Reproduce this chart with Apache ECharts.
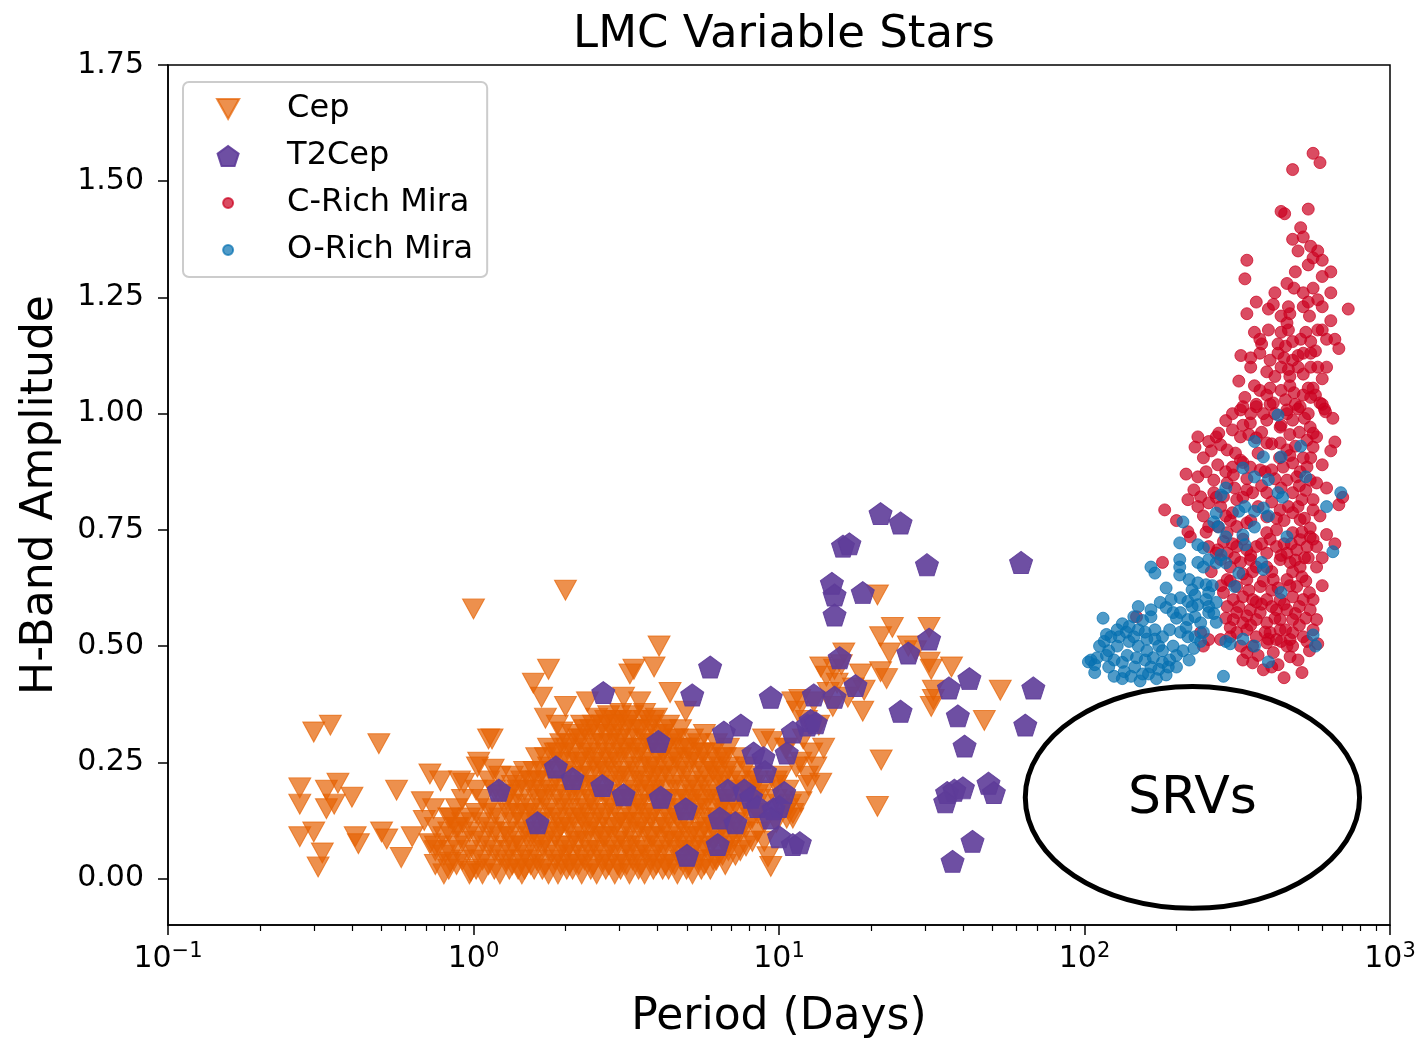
<!DOCTYPE html>
<html><head><meta charset="utf-8">
<script src="https://cdn.jsdelivr.net/npm/echarts@6/dist/echarts.min.js"></script>
<style>html,body{margin:0;padding:0;background:#fff;}#chart{width:1420px;height:1039px;}</style>
</head><body><div id="chart"></div>
<script>
const FONT = 'DejaVu Sans';
const chartTitle = 'LMC Variable Stars';
const xAxisName = 'Period (Days)';
const yAxisName = 'H-Band Amplitude';
const seriesNames = ['Cep', 'T2Cep', 'C-Rich Mira', 'O-Rich Mira'];
const seriesColors = ['#e66101', '#5e3c99', '#ca0020', '#0571b0'];
const xMajorTicks = [0.1, 1, 10, 100, 1000];
const xMinorTicks = [0.2,0.3,0.4,0.5,0.6,0.7,0.8,0.9, 2,3,4,5,6,7,8,9, 20,30,40,50,60,70,80,90, 200,300,400,500,600,700,800,900];
const yTicks = [0, 0.25, 0.5, 0.75, 1.0, 1.25, 1.5, 1.75];
const srvLabel = 'SRVs';
const srvPeriodRange = [64, 795];
const srvAmpRange = [-0.064, 0.413];

// Classical Cepheids: isolated points
const cepScattered = [
 [0.30,0.315],[0.34,0.33],[0.49,0.29],[0.27,0.195],[0.27,0.16],[0.33,0.19],[0.36,0.205],[0.33,0.15],[0.35,0.16],[0.40,0.175],
 [0.27,0.09],[0.30,0.10],[0.32,0.055],[0.31,0.025],[0.41,0.09],[0.42,0.075],[0.50,0.10],[0.52,0.085],[0.56,0.19],[0.58,0.045],
 [0.63,0.09],[0.72,0.225],[0.78,0.21],[0.68,0.165],[0.74,0.15],[0.69,0.125],[0.75,0.06],[0.72,0.075],[0.93,0.205],[1.03,0.24],
 [1.12,0.30],[0.84,0.13],[0.89,0.11],[0.84,0.035],[0.98,0.015],
 [1.0,0.58],[2.0,0.62],[4.05,0.50],[3.9,0.455],[3.25,0.44],[3.35,0.45],[1.76,0.45],[1.57,0.42],[1.67,0.39],[2.0,0.37],
 [1.72,0.345],[1.88,0.33],[1.95,0.315],[1.15,0.30],[4.4,0.40],[4.95,0.36],[2.36,0.38],[3.1,0.39],[3.5,0.38],[1.04,0.25],[1.16,0.235],[0.9,0.21],
 [11.7,0.385],[11.1,0.38],[8.9,0.30],[9.5,0.295],[10.6,0.28],[9.2,0.047],[9.4,0.026],[10.6,0.13],[11.1,0.13],[11.4,0.24],
 [12.4,0.22],[10.9,0.16],[11.8,0.165],[11.1,0.14],[13.7,0.205],
 [21,0.61],[23.5,0.54],[21.5,0.52],[31,0.54],[23,0.485],[21.5,0.445],[22.5,0.43],[16.3,0.485],[16,0.46],[13.7,0.455],
 [14.3,0.435],[18.5,0.44],[17.5,0.41],[19,0.405],[18.8,0.36],[26.5,0.50],[28,0.49],[31,0.465],[31.5,0.45],[36.7,0.455],
 [32,0.405],[32,0.385],[31.5,0.37],[53,0.405],[47,0.34],[21.6,0.255],[21,0.155],[11.5,0.36],[12.3,0.34],[13,0.38],
 [12,0.30],[13.5,0.33],[14.5,0.40],[15.5,0.42],[14,0.28],[12.8,0.27],[11.8,0.25],[10.5,0.28],[10.2,0.22],[9.8,0.20],
 [12.5,0.20],[13.2,0.24],[15,0.37],[16.8,0.39],[15.2,0.45]
];
// Classical Cepheids: the dense cloud, read column by column (period, amplitudes)
const cepCloud = [
 [0.75,[0.03,0.07,0.11]],[0.83,[0.02,0.06,0.10,0.13]],[0.92,[0.04,0.08,0.12,0.17]],[1.02,[0.02,0.05,0.09,0.14,0.19]],
 [1.12,[0.03,0.07,0.11,0.15,0.21]],[1.22,[0.01,0.05,0.09,0.13,0.18,0.22]],[1.34,[0.03,0.07,0.12,0.16,0.20,0.22]],
 [1.47,[0.02,0.05,0.10,0.14,0.19,0.23]],[1.61,[0.04,0.08,0.12,0.17,0.21,0.26]],[1.76,[0.01,0.06,0.10,0.15,0.19,0.24,0.28]],
 [1.93,[0.03,0.07,0.11,0.16,0.20,0.25,0.29]],[2.11,[0.02,0.05,0.09,0.13,0.18,0.22,0.27,0.31]],
 [2.31,[0.04,0.08,0.12,0.15,0.20,0.24,0.28,0.32]],[2.53,[0.01,0.06,0.10,0.14,0.18,0.23,0.26,0.31,0.345]],
 [2.77,[0.03,0.07,0.11,0.16,0.21,0.25,0.29,0.33,0.35]],[3.03,[0.02,0.05,0.09,0.13,0.17,0.22,0.27,0.30,0.34,0.355]],
 [3.32,[0.04,0.08,0.12,0.15,0.19,0.24,0.28,0.32,0.35]],[3.63,[0.01,0.06,0.10,0.14,0.18,0.21,0.26,0.30,0.34,0.355]],
 [3.97,[0.03,0.07,0.11,0.16,0.20,0.23,0.27,0.31,0.345]],[4.35,[0.02,0.05,0.09,0.13,0.17,0.22,0.25,0.29,0.33]],
 [4.76,[0.04,0.08,0.12,0.15,0.19,0.24,0.28,0.32]],[5.21,[0.01,0.06,0.10,0.14,0.18,0.21,0.26,0.30]],
 [5.70,[0.03,0.07,0.11,0.16,0.20,0.23,0.27,0.31]],[6.24,[0.04,0.09,0.13,0.17,0.22,0.25,0.29]],
 [6.83,[0.06,0.08,0.12,0.15,0.19,0.24,0.28]],[7.47,[0.06,0.10,0.14,0.18,0.21,0.26]],[8.18,[0.08,0.13,0.17,0.20,0.22]],
 [8.95,[0.08,0.12,0.16,0.19]],[9.8,[0.12,0.17,0.21]],[10.7,[0.15,0.19]],
 [1.28,[0.04,0.10,0.17]],[1.40,[0.02,0.08,0.14,0.19]],[1.54,[0.03,0.09,0.15,0.21]],[1.68,[0.02,0.07,0.13,0.18,0.23]],
 [1.85,[0.04,0.09,0.14,0.21,0.27]],[2.02,[0.02,0.06,0.12,0.17,0.23,0.28]],[2.21,[0.03,0.08,0.14,0.19,0.25,0.30]],
 [2.42,[0.02,0.06,0.11,0.17,0.22,0.27,0.32]],[2.65,[0.04,0.09,0.13,0.19,0.24,0.29,0.33]],
 [2.90,[0.01,0.06,0.11,0.15,0.20,0.26,0.31,0.34]],[3.17,[0.03,0.07,0.12,0.18,0.23,0.28,0.33]],
 [3.47,[0.02,0.05,0.11,0.16,0.22,0.27,0.32]],[3.80,[0.04,0.09,0.13,0.19,0.24,0.29,0.33]],
 [4.16,[0.02,0.06,0.12,0.17,0.22,0.27,0.31]],[4.55,[0.03,0.08,0.14,0.20,0.26,0.30]],[4.98,[0.02,0.07,0.12,0.17,0.23,0.28]],
 [5.45,[0.04,0.09,0.15,0.19,0.25,0.29]],[5.96,[0.02,0.07,0.12,0.18,0.24]],[6.53,[0.05,0.11,0.16,0.21,0.26]],
 [0.80,[0.01,0.05,0.09]],[0.88,[0.03,0.07,0.11,0.15]],[0.97,[0.01,0.06,0.10,0.13]],[1.07,[0.01,0.04,0.08,0.12,0.17]],
 [1.17,[0.02,0.06,0.10,0.14,0.19]],[1.31,[0.02,0.06,0.09,0.14,0.18]],[1.44,[0.01,0.04,0.07,0.12,0.16,0.21]],
 [1.58,[0.02,0.06,0.10,0.14,0.19,0.23]],[1.72,[0.03,0.08,0.12,0.17,0.21,0.26]],[1.89,[0.01,0.05,0.10,0.13,0.18,0.23,0.27]],
 [2.06,[0.03,0.07,0.11,0.15,0.20,0.25,0.29]],[2.26,[0.01,0.05,0.10,0.13,0.17,0.22,0.26,0.30,0.33]],
 [2.47,[0.03,0.08,0.12,0.16,0.20,0.25,0.29,0.33]],[2.71,[0.02,0.05,0.09,0.14,0.18,0.23,0.27,0.31,0.34]],
 [2.96,[0.03,0.08,0.12,0.17,0.22,0.25,0.29,0.33]],[3.24,[0.01,0.06,0.10,0.14,0.17,0.21,0.26,0.30,0.34]],
 [3.55,[0.03,0.07,0.12,0.16,0.20,0.24,0.28,0.32]],[3.88,[0.02,0.05,0.09,0.14,0.18,0.22,0.25,0.29,0.34]],
 [4.25,[0.03,0.08,0.11,0.15,0.19,0.24,0.28,0.32]],[4.65,[0.01,0.06,0.10,0.13,0.17,0.22,0.26,0.30]],
 [5.09,[0.03,0.05,0.09,0.16,0.20,0.25,0.28]],[5.57,[0.02,0.06,0.10,0.13,0.17,0.22,0.27]],
 [6.09,[0.04,0.08,0.11,0.15,0.20,0.23,0.27]],[6.67,[0.03,0.07,0.10,0.14,0.17,0.22,0.26]],
 [7.2,[0.05,0.09,0.12,0.16,0.20,0.23]],[7.8,[0.07,0.11,0.15,0.19,0.24]],[8.5,[0.10,0.14,0.18,0.21]]
];
const cepData = cepScattered.concat(cepCloud.flatMap(([p, amps]) => amps.map(a => [p, a])));

// Type II Cepheids
const t2cepData = [
 [2.66,0.40],[1.21,0.19],[1.86,0.24],[2.11,0.215],[2.64,0.20],[3.1,0.18],[1.62,0.12],[5.95,0.455],[5.2,0.395],[9.4,0.39],
 [4.03,0.295],[6.6,0.315],[7.5,0.33],[8.25,0.27],[8.9,0.26],[9.0,0.23],[10.6,0.27],[11.1,0.315],[12.4,0.33],[4.1,0.175],
 [4.95,0.15],[6.8,0.19],[7.7,0.19],[8.1,0.175],[6.4,0.13],[7.2,0.12],[8.5,0.155],[9.6,0.15],[10.0,0.155],[9.4,0.13],
 [10.0,0.09],[11.1,0.073],[6.3,0.073],[5.0,0.05],[10.4,0.185],
 [21.5,0.785],[25,0.765],[16.2,0.715],[17,0.72],[30.5,0.675],[62,0.68],[14.9,0.635],[15.2,0.61],[18.8,0.615],[15.2,0.567],
 [31,0.515],[26.5,0.485],[15.8,0.475],[17.8,0.415],[13,0.395],[15.2,0.39],[12.7,0.34],[13.2,0.335],[36,0.41],[42,0.43],
 [68,0.41],[25,0.36],[38.5,0.35],[64,0.33],[40.5,0.285],[35.5,0.185],[37.5,0.19],[40,0.195],[35,0.165],[48.5,0.205],
 [50.5,0.185],[43,0.08],[37,0.037],[11.7,0.077]
];

// Carbon-rich Miras
const cRichData = [
 [560,1.56],[590,1.54],[480,1.525],[440,1.435],[452,1.43],[540,1.44],[510,1.40],[480,1.375],[520,1.38],[550,1.36],
 [580,1.35],[560,1.335],[540,1.32],[340,1.33],[335,1.29],[490,1.305],[640,1.305],[600,1.295],[485,1.27],[520,1.26],
 [560,1.27],[580,1.245],[540,1.24],[520,1.23],[365,1.24],[415,1.235],[400,1.225],[340,1.215],[465,1.23],[470,1.215],
 [440,1.21],[730,1.225],[545,1.21],[640,1.20],[600,1.18],[580,1.18],[460,1.195],[465,1.18],[360,1.175],[400,1.18],
 [440,1.175],[375,1.16],[380,1.15],[430,1.15],[455,1.145],[480,1.155],[510,1.16],[550,1.155],[620,1.16],[660,1.16],
 [325,1.125],[350,1.12],[375,1.13],[405,1.115],[450,1.12],[500,1.125],[520,1.13],[550,1.13],[350,1.10],[440,1.10],
 [465,1.095],[500,1.10],[550,1.10],[580,1.10],[320,1.07],[420,1.08],[470,1.08],[520,1.085],[600,1.075],[375,1.05],
 [405,1.055],[440,1.05],[485,1.045],[540,1.055],[560,1.055],[335,1.035],[330,1.015],[365,1.02],[405,1.02],[455,1.03],
 [490,1.02],[550,1.035],[600,1.02],[350,1.0],[385,1.0],[460,1.0],[500,1.01],[540,1.0],[610,1.01],
 [324,1.008],[365,1.015],[415,1.023],[460,1.008],[508,1.015],[590,1.023],[615,1.004],
 [349,0.98],[395,0.986],[437,0.971],[480,0.986],[548,0.971],[560,0.958],
 [235,0.95],[255,0.94],[230,0.928],[275,0.958],[305,0.965],[324,0.95],[279,0.933],[293,0.922],[312,0.915],[365,0.948],
 [395,0.937],[437,0.937],[460,0.922],[535,0.943],[575,0.95],[560,0.928],[660,0.939],
 [245,0.905],[273,0.89],[305,0.885],[324,0.90],[349,0.885],[376,0.879],[410,0.879],[447,0.885],[480,0.894],[508,0.875],[535,0.885],
 [235,0.864],[265,0.857],[293,0.851],[307,0.868],[460,0.857],[495,0.864],[548,0.857],[575,0.851],
 [228,0.836],[218,0.815],[240,0.821],[265,0.83],[285,0.821],[315,0.815],[340,0.836],[355,0.83],[395,0.83],[480,0.83],[515,0.815],[560,0.815],[680,0.804],
 [183,0.793],[235,0.80],[255,0.808],[279,0.80],[305,0.787],[395,0.778],[437,0.793],[480,0.787],[508,0.772],[548,0.754],[560,0.793],
 [218,0.746],[222,0.735],[255,0.757],[273,0.757],[293,0.744],[315,0.757],[340,0.765],[395,0.744],[425,0.75],[480,0.744],[508,0.729],[548,0.735],[575,0.714],
 [255,0.714],[273,0.707],[293,0.70],[315,0.714],[340,0.707],[365,0.714],[395,0.70],[425,0.714],[460,0.70],[495,0.707],[535,0.714],
 [180,0.68],[279,0.686],[300,0.67],[324,0.68],[349,0.686],[365,0.67],[395,0.67],[437,0.686],[471,0.68],[508,0.67],[575,0.67],
 [293,0.643],[315,0.628],[340,0.643],[376,0.628],[415,0.643],[460,0.643],[495,0.628],[515,0.649],
 [285,0.615],[307,0.60],[330,0.606],[355,0.60],[395,0.60],[437,0.60],[480,0.606],
 [293,0.585],[315,0.572],[349,0.578],[376,0.572],[425,0.578],[460,0.578],[548,0.578],
 [307,0.557],[330,0.55],[365,0.557],[395,0.55],[437,0.557],[480,0.557],[575,0.557],
 [315,0.529],[340,0.535],[365,0.52],[405,0.529],[437,0.535],[480,0.529],[560,0.535],
 [255,0.514],[279,0.514],[324,0.50],[355,0.50],[395,0.507],[425,0.514],[471,0.514],[480,0.50],
 [340,0.486],[415,0.486],[355,0.464],[385,0.449],[471,0.477],[450,0.432],[515,0.443],
 [240,0.529],[245,0.50],[148,0.563],
 [330,0.47],[370,0.48],[430,0.46],[460,0.50],[500,0.47],[520,0.52],[545,0.49],[390,0.53],[300,0.54],[440,0.51],[410,0.455],[580,0.505],
 [290,0.56],[340,0.565],[380,0.59],[420,0.56],[450,0.59],[505,0.585],[530,0.56],[560,0.60],[600,0.63],[345,0.62],[410,0.62],[470,0.63],[300,0.64],
 [260,0.66],[285,0.725],[310,0.69],[330,0.73],[355,0.66],[380,0.72],[410,0.66],[450,0.72],[490,0.685],[525,0.69],[560,0.73],[600,0.69],[620,0.74],[660,0.72],
 [200,0.77],[245,0.78],[300,0.77],[330,0.82],[370,0.80],[410,0.81],[450,0.77],[500,0.80],[530,0.835],[590,0.78],[620,0.84],[700,0.82],
 [215,0.87],[260,0.92],[290,0.875],[340,0.86],[370,0.915],[420,0.86],[470,0.91],[520,0.905],[600,0.89],[640,0.92],
 [290,0.985],[330,0.975],[380,0.96],[420,1.00],[470,0.955],[525,0.99],[570,1.04],[650,0.99],
 [360,1.06],[395,1.09],[430,1.13],[480,1.115],[530,1.175],[570,1.135],[620,1.10],[680,1.14],
 [420,1.26],[460,1.28],[600,1.23],[640,1.26],[500,1.35],[600,1.33],
 [300,0.52],[350,0.545],[400,0.515],[455,0.535],[505,0.545],[535,0.51],[320,0.585],[365,0.595],[410,0.585],[490,0.57],
 [520,0.60],[545,0.615],[280,0.63],[330,0.655],[385,0.64],[430,0.625],[480,0.66],[530,0.64],[270,0.70],[305,0.72],
 [350,0.695],[405,0.73],[440,0.695],[475,0.72],[515,0.745],[540,0.69],[250,0.745],[290,0.78],[350,0.77],[425,0.775],
 [465,0.80],[525,0.775],[270,0.82],[310,0.84],[380,0.845],[440,0.84],[505,0.845],[250,0.875],[330,0.895],[390,0.875],
 [435,0.905],[490,0.93],[550,0.905],[270,0.95],[345,0.955],[410,0.935],[505,0.96],[305,1.0],[440,0.975],[395,1.04],
 [470,1.06],[520,1.04]
];

// Oxygen-rich Miras
const oRichData = [
 [430,0.997],[360,0.94],[510,0.93],[385,0.907],[440,0.907],[330,0.883],[360,0.864],[400,0.858],[530,0.864],[290,0.84],
 [280,0.825],[430,0.83],[445,0.82],[690,0.83],[320,0.79],[335,0.80],[360,0.79],[385,0.797],[400,0.78],[620,0.80],
 [270,0.786],[265,0.767],[275,0.756],[210,0.767],[360,0.756],[290,0.735],[330,0.739],[335,0.718],[460,0.735],[205,0.722],
 [235,0.718],[245,0.711],[650,0.703],[280,0.696],[290,0.679],[270,0.679],[205,0.686],[205,0.67],[205,0.653],[235,0.68],
 [255,0.686],[245,0.67],[380,0.68],[385,0.665],[165,0.67],[170,0.657],[320,0.657],[220,0.643],[235,0.636],[250,0.632],
 [225,0.621],[310,0.628],[185,0.625],[255,0.615],[270,0.594],[206,0.604],[218,0.596],[235,0.589],[255,0.585],[440,0.615],
 [177,0.594],[165,0.578],[185,0.583],[195,0.572],[115,0.56],[133,0.548],[145,0.563],[140,0.542],[155,0.555],[165,0.563],
 [206,0.572],[218,0.557],[230,0.563],[255,0.572],[270,0.551],
 [118,0.525],[122,0.52],[116,0.51],[128,0.535],[137,0.53],[150,0.535],[158,0.53],[170,0.535],[180,0.52],
 [206,0.53],[218,0.52],[230,0.52],[240,0.51],
 [105,0.47],[108,0.46],[110,0.475],[118,0.48],[125,0.47],[133,0.465],[138,0.48],[148,0.475],[158,0.47],[168,0.475],
 [180,0.465],[190,0.47],[200,0.48],
 [125,0.435],[133,0.43],[142,0.435],[152,0.425],[162,0.44],[172,0.43],[185,0.438],
 [285,0.435],[290,0.51],[300,0.505],[330,0.515],[360,0.50],[400,0.466],[560,0.524],[570,0.50],[103,0.466],[108,0.443],
 [112,0.50],[120,0.455],[128,0.50],[135,0.445],[140,0.51],[146,0.455],[150,0.50],[155,0.44],[160,0.49],[165,0.455],
 [170,0.515],[175,0.45],[180,0.49],[188,0.455],[195,0.50],[200,0.455],[210,0.49],[220,0.47],[228,0.495],[120,0.49],
 [130,0.52],[145,0.52],[160,0.515],[175,0.50],[190,0.535],[200,0.56],[215,0.54],[225,0.585],[240,0.55],[250,0.60],
 [262,0.63],[230,0.61],[192,0.60],[150,0.585],[245,0.53],[265,0.57]
];

const triDown = 'path://M-1,-0.9 L1,-0.9 L0,0.9 Z';
const pentagon = 'path://M0,-1 L0.951,-0.309 L0.588,0.809 L-0.588,0.809 L-0.951,-0.309 Z';
const smallDot = 'path://M-1,-1 M1,1 M0.5,0 A0.5,0.5 0 1 1 -0.5,0 A0.5,0.5 0 1 1 0.5,0 Z';

const chart = echarts.init(document.getElementById('chart'), null, {renderer: 'canvas'});

function scatterSeries(i, data, symbol, size, opacity) {
  return {
    name: seriesNames[i], type: 'scatter', data: data, symbol: symbol, symbolSize: size,
    xAxisIndex: 0, yAxisIndex: 0,
    itemStyle: {color: seriesColors[i], opacity: opacity, borderColor: seriesColors[i], borderWidth: 1},
    emphasis: {disabled: true}, z: 2 + i
  };
}

const axisLineStyle = {color: '#000', width: 1.5};
const option = {
  animation: false,
  backgroundColor: '#fff',
  title: {
    text: chartTitle, left: 779, top: 8, textAlign: 'center',
    textStyle: {fontFamily: FONT, fontSize: 45, fontWeight: 'normal', color: '#000'}
  },
  grid: {left: 168, right: 30, top: 65, bottom: 114, show: true, borderColor: '#000', borderWidth: 1.5,
    backgroundColor: 'transparent', containLabel: false, outerBoundsMode: 'none'},
  legend: {
    orient: 'vertical', left: 183, top: 82, padding: [10, 14, 10, 33],
    itemWidth: 60, itemHeight: 20, itemGap: 13,
    backgroundColor: 'rgba(255,255,255,0.8)', borderColor: '#cccccc', borderWidth: 2, borderRadius: 6,
    textStyle: {fontFamily: FONT, fontSize: 32, color: '#000', lineHeight: 34, padding: [0, 0, 0, 24]},
    data: [
      {name: seriesNames[0], icon: triDown, itemStyle: {color: seriesColors[0], opacity: 0.7}},
      {name: seriesNames[1], icon: pentagon, itemStyle: {color: seriesColors[1], opacity: 0.9}},
      {name: seriesNames[2], icon: smallDot, itemStyle: {color: seriesColors[2], opacity: 0.7}},
      {name: seriesNames[3], icon: smallDot, itemStyle: {color: seriesColors[3], opacity: 0.7}}
    ]
  },
  xAxis: [{
    type: 'log', logBase: 10, min: 0.1, max: 1000, position: 'bottom',
    axisLine: {show: true, onZero: false, lineStyle: axisLineStyle},
    axisTick: {show: true, length: 10, lineStyle: axisLineStyle, customValues: xMajorTicks},
    minorTick: {show: false}, splitLine: {show: false},
    axisLabel: {
      customValues: xMajorTicks, margin: 16,
      formatter: function (v) {
        const e = Math.round(Math.log10(v));
        return '{b|10}{s|' + (e < 0 ? '\u2212' + (-e) : e) + '}';
      },
      rich: {
        b: {fontFamily: FONT, fontSize: 30, color: '#000'},
        s: {fontFamily: FONT, fontSize: 21, color: '#000', padding: [0, 0, 16, 0]}
      }
    },
    name: xAxisName, nameLocation: 'middle', nameGap: 71,
    nameTextStyle: {fontFamily: FONT, fontSize: 44, color: '#000'}
  }, {
    type: 'log', logBase: 10, min: 0.1, max: 1000, position: 'bottom',
    axisLine: {show: false, onZero: false},
    axisTick: {show: true, length: 6, lineStyle: {color: '#000', width: 1.2}, customValues: xMinorTicks},
    axisLabel: {show: false}, splitLine: {show: false}, minorTick: {show: false}
  }],
  yAxis: {
    type: 'value', min: -0.1, max: 1.75,
    axisLine: {show: true, onZero: false, lineStyle: axisLineStyle},
    axisTick: {show: true, length: 10, lineStyle: axisLineStyle, customValues: yTicks},
    axisLabel: {customValues: yTicks, margin: 24, fontFamily: FONT, fontSize: 30, color: '#000',
      formatter: v => v.toFixed(2)},
    splitLine: {show: false},
    name: yAxisName, nameLocation: 'middle', nameGap: 105, nameRotate: 90,
    nameTextStyle: {fontFamily: FONT, fontSize: 44, color: '#000'}
  },
  series: [
    scatterSeries(0, cepData, triDown, [22, 20], 0.7),
    scatterSeries(1, t2cepData, pentagon, [23, 22], 0.9),
    scatterSeries(2, cRichData, 'circle', 12, 0.7),
    scatterSeries(3, oRichData, 'circle', 12, 0.7)
  ]
};
chart.setOption(option);

const pA = chart.convertToPixel({seriesIndex: 0}, [srvPeriodRange[0], srvAmpRange[1]]);
const pB = chart.convertToPixel({seriesIndex: 0}, [srvPeriodRange[1], srvAmpRange[0]]);
const cx = (pA[0] + pB[0]) / 2, cy = (pA[1] + pB[1]) / 2;
chart.setOption({
  graphic: [
    {type: 'ellipse', z: 100, shape: {cx: cx, cy: cy, rx: Math.abs(pB[0] - pA[0]) / 2, ry: Math.abs(pB[1] - pA[1]) / 2},
     style: {fill: 'rgba(0,0,0,0)', stroke: '#000', lineWidth: 5}},
    {type: 'text', z: 101, x: cx, y: cy + 2,
     style: {text: srvLabel, fontFamily: FONT, fontSize: 52, fill: '#000', align: 'center', verticalAlign: 'middle'}}
  ]
});
</script>
</body></html>
